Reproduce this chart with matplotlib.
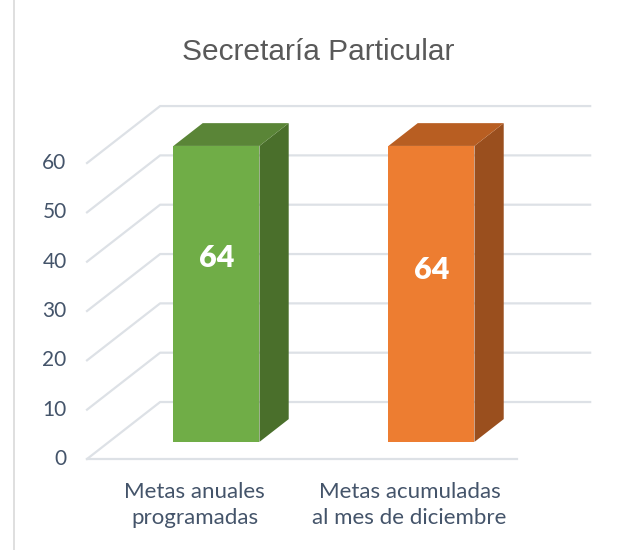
import numpy as np
import matplotlib
matplotlib.use("Agg")
import matplotlib.pyplot as plt
from matplotlib.patches import Polygon

# data
categories = ["Metas anuales\nprogramadas", "Metas acumuladas\nal mes de diciembre"]
values = [64, 64]
yticks = [0, 10, 20, 30, 40, 50, 60]
title = "Secretaría Particular"

front_colors = ["#70AD47", "#ED7D31"]
side_colors = ["#4A6F2B", "#9A4F1E"]
top_colors = ["#5A8537", "#B85E22"]

# 3d-ish geometry (in axis units)
ymax = 60
dx, dy = 0.34, 11.55        # full depth shift
f0, f1 = 0.30, 0.70         # bar depth range
bar_w = 0.40
grid_c = "#DDE1E6"
text_c = "#44546A"

fig = plt.figure(figsize=(6.28, 5.5), dpi=100)
ax = fig.add_axes([0, 0, 1, 1])
ax.set_xlim(-0.4047, 2.516)
ax.set_ylim(-18.45, 93.05)
ax.axis("off")

# chart border on the left
ax.plot([-0.34, -0.34], [-18.45, 93.05], color="#D9D9D9", lw=1.2)

# walls / gridlines
n = len(categories)
for v in yticks:
    ax.plot([0, dx, n + dx], [v, v + dy, v + dy], color=grid_c, lw=1.6, zorder=1)
    ax.text(-0.095, v, str(v), ha="right", va="center", fontsize=15,
            color=text_c, family="Lato")
ax.plot([0, n], [0, 0], color=grid_c, lw=1.6, zorder=1)

# bars
label_pos = [40.7, 38.3]
for i, val in enumerate(values):
    h = min(val, ymax)
    x0 = i + 0.5 - bar_w / 2 + f0 * dx
    x1 = x0 + bar_w
    y0 = f0 * dy
    ddx = (f1 - f0) * dx
    ddy = (f1 - f0) * dy
    front = [(x0, y0), (x1, y0), (x1, y0 + h), (x0, y0 + h)]
    side = [(x1, y0), (x1 + ddx, y0 + ddy), (x1 + ddx, y0 + h + ddy), (x1, y0 + h)]
    top = [(x0, y0 + h), (x1, y0 + h), (x1 + ddx, y0 + h + ddy), (x0 + ddx, y0 + h + ddy)]
    ax.add_patch(Polygon(side, closed=True, fc=side_colors[i], ec="none", zorder=3))
    ax.add_patch(Polygon(top, closed=True, fc=top_colors[i], ec="none", zorder=3))
    ax.add_patch(Polygon(front, closed=True, fc=front_colors[i], ec="none", zorder=4))

    ax.text((x0 + x1) / 2, label_pos[i], str(val), ha="center", va="center",
            fontsize=22, fontweight="heavy", color="white", family="Lato", zorder=5)

    ax.text(i + 0.5, -4.6, categories[i], ha="center", va="top", fontsize=16,
            color=text_c, family="Lato", linespacing=1.42)

fig.text(0.506, 0.905, title, ha="center", va="center", fontsize=21.5,
         color="#595959", family="Liberation Sans")

fig.savefig("out.png", dpi=100)
